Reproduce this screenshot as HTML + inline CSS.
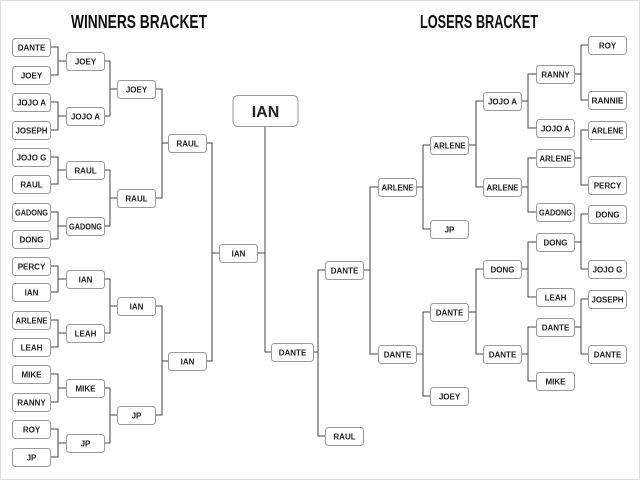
<!DOCTYPE html>
<html><head><meta charset="utf-8"><style>
html,body{margin:0;padding:0;background:#fff;}
svg{display:block;}
.b{fill:#fff;stroke:#9a9a9a;stroke-width:1;}
.t{font-family:"Liberation Sans",sans-serif;font-weight:bold;font-size:8px;fill:#222;text-anchor:middle;}
.h{font-family:"Liberation Sans",sans-serif;font-weight:bold;font-size:18px;fill:#111;text-anchor:middle;}
.l{fill:none;stroke:#444;stroke-width:1;}
</style></head><body>
<svg width="640" height="480" viewBox="0 0 640 480">
<rect x="0.5" y="0.5" width="639" height="479" fill="#fff" stroke="#ddd"/>
<text class="h" x="139" y="28" textLength="136" lengthAdjust="spacingAndGlyphs">WINNERS BRACKET</text>
<text class="h" x="479" y="28" textLength="118" lengthAdjust="spacingAndGlyphs">LOSERS BRACKET</text>

<g class="l">
<path d="M50 47H58V75H50M58 61H66"/>
<path d="M50 102H58V130H50M58 116H66"/>
<path d="M50 157H58V184H50M58 170H66"/>
<path d="M50 212H58V239H50M58 226H66"/>
<path d="M50 266H58V292H50M58 279H66"/>
<path d="M50 320H58V347H50M58 333H66"/>
<path d="M50 374H58V402H50M58 388H66"/>
<path d="M50 429H58V457H50M58 443H66"/>
<path d="M104 61H110V116H104M110 89H117"/>
<path d="M104 170H110V226H104M110 198H117"/>
<path d="M104 279H110V333H104M110 306H117"/>
<path d="M104 388H110V443H104M110 415H117"/>
<path d="M155 89H162V198H155M162 143H168"/>
<path d="M155 306H162V415H155M162 361H168"/>
<path d="M206 143H212V361H206M212 253H219"/>
<path d="M257 253H265"/>
<path d="M265 126V352H271"/>
<path d="M325 270H318V436H325M313 352H318"/>
<path d="M378 187H370V354H378M363 270H370"/>
<path d="M430 145H423V229H430M416 187H423"/>
<path d="M430 312H423V396H430M416 354H423"/>
<path d="M483 101H476V187H483M468 145H476"/>
<path d="M483 269H476V354H483M468 312H476"/>
<path d="M536 74H528V128H536M521 101H528"/>
<path d="M536 158H528V212H536M521 187H528"/>
<path d="M536 242H528V297H536M521 269H528"/>
<path d="M536 327H528V381H536M521 354H528"/>
<path d="M588 45H581V100H588M575 74H581"/>
<path d="M588 130H581V185H588M575 158H581"/>
<path d="M588 214H581V269H588M575 242H581"/>
<path d="M588 299H581V354H588M575 327H581"/>
</g>

<rect class="b" x="233" y="95.5" width="65" height="31" rx="5"/>
<text class="t" x="265.5" y="117" style="font-size:16px">IAN</text>

<g>
<rect class="b" x="12.5" y="38.5" width="38" height="18" rx="3"/><text class="t" x="31.5" y="50.5">DANTE</text>
<rect class="b" x="12.5" y="66.5" width="38" height="18" rx="3"/><text class="t" x="31.5" y="78.5">JOEY</text>
<rect class="b" x="12.5" y="93.5" width="38" height="18" rx="3"/><text class="t" x="31.5" y="105.5">JOJO A</text>
<rect class="b" x="12.5" y="121.5" width="38" height="18" rx="3"/><text class="t" x="31.5" y="133.5" textLength="32" lengthAdjust="spacingAndGlyphs">JOSEPH</text>
<rect class="b" x="12.5" y="148.5" width="38" height="18" rx="3"/><text class="t" x="31.5" y="160.5">JOJO G</text>
<rect class="b" x="12.5" y="175.5" width="38" height="18" rx="3"/><text class="t" x="31.5" y="187.5">RAUL</text>
<rect class="b" x="12.5" y="203.5" width="38" height="18" rx="3"/><text class="t" x="31.5" y="215.5" textLength="33" lengthAdjust="spacingAndGlyphs">GADONG</text>
<rect class="b" x="12.5" y="230.5" width="38" height="18" rx="3"/><text class="t" x="31.5" y="242.5">DONG</text>
<rect class="b" x="12.5" y="257.5" width="38" height="18" rx="3"/><text class="t" x="31.5" y="269.5">PERCY</text>
<rect class="b" x="12.5" y="283.5" width="38" height="18" rx="3"/><text class="t" x="31.5" y="295.5">IAN</text>
<rect class="b" x="12.5" y="311.5" width="38" height="18" rx="3"/><text class="t" x="31.5" y="323.5" textLength="32" lengthAdjust="spacingAndGlyphs">ARLENE</text>
<rect class="b" x="12.5" y="338.5" width="38" height="18" rx="3"/><text class="t" x="31.5" y="350.5">LEAH</text>
<rect class="b" x="12.5" y="365.5" width="38" height="18" rx="3"/><text class="t" x="31.5" y="377.5">MIKE</text>
<rect class="b" x="12.5" y="393.5" width="38" height="18" rx="3"/><text class="t" x="31.5" y="405.5">RANNY</text>
<rect class="b" x="12.5" y="420.5" width="38" height="18" rx="3"/><text class="t" x="31.5" y="432.5">ROY</text>
<rect class="b" x="12.5" y="448.5" width="38" height="18" rx="3"/><text class="t" x="31.5" y="460.5">JP</text>
</g>
<g>
<rect class="b" x="66.5" y="52.5" width="38" height="18" rx="3"/><text class="t" x="85.5" y="64.5">JOEY</text>
<rect class="b" x="66.5" y="107.5" width="38" height="18" rx="3"/><text class="t" x="85.5" y="119.5">JOJO A</text>
<rect class="b" x="66.5" y="161.5" width="38" height="18" rx="3"/><text class="t" x="85.5" y="173.5">RAUL</text>
<rect class="b" x="66.5" y="217.5" width="38" height="18" rx="3"/><text class="t" x="85.5" y="229.5" textLength="33" lengthAdjust="spacingAndGlyphs">GADONG</text>
<rect class="b" x="66.5" y="270.5" width="38" height="18" rx="3"/><text class="t" x="85.5" y="282.5">IAN</text>
<rect class="b" x="66.5" y="324.5" width="38" height="18" rx="3"/><text class="t" x="85.5" y="336.5">LEAH</text>
<rect class="b" x="66.5" y="379.5" width="38" height="18" rx="3"/><text class="t" x="85.5" y="391.5">MIKE</text>
<rect class="b" x="66.5" y="434.5" width="38" height="18" rx="3"/><text class="t" x="85.5" y="446.5">JP</text>
</g>
<g>
<rect class="b" x="117.5" y="80.5" width="38" height="18" rx="3"/><text class="t" x="136.5" y="92.5">JOEY</text>
<rect class="b" x="117.5" y="189.5" width="38" height="18" rx="3"/><text class="t" x="136.5" y="201.5">RAUL</text>
<rect class="b" x="117.5" y="297.5" width="38" height="18" rx="3"/><text class="t" x="136.5" y="309.5">IAN</text>
<rect class="b" x="117.5" y="406.5" width="38" height="18" rx="3"/><text class="t" x="136.5" y="418.5">JP</text>
</g>
<rect class="b" x="168.5" y="134.5" width="38" height="18" rx="3"/><text class="t" x="187.5" y="146.5">RAUL</text>
<rect class="b" x="168.5" y="352.5" width="38" height="18" rx="3"/><text class="t" x="187.5" y="364.5">IAN</text>
<rect class="b" x="219.5" y="244.5" width="38" height="18" rx="3"/><text class="t" x="238.5" y="256.5">IAN</text>
<rect class="b" x="271.5" y="343.5" width="42" height="18" rx="3"/><text class="t" x="292.5" y="355.5">DANTE</text>

<rect class="b" x="325.5" y="261.5" width="38" height="18" rx="3"/><text class="t" x="344.5" y="273.5">DANTE</text>
<rect class="b" x="325.5" y="427.5" width="38" height="18" rx="3"/><text class="t" x="344.5" y="439.5">RAUL</text>
<rect class="b" x="378.5" y="178.5" width="38" height="18" rx="3"/><text class="t" x="397.5" y="190.5" textLength="32" lengthAdjust="spacingAndGlyphs">ARLENE</text>
<rect class="b" x="378.5" y="345.5" width="38" height="18" rx="3"/><text class="t" x="397.5" y="357.5">DANTE</text>
<rect class="b" x="430.5" y="136.5" width="38" height="18" rx="3"/><text class="t" x="449.5" y="148.5" textLength="32" lengthAdjust="spacingAndGlyphs">ARLENE</text>
<rect class="b" x="430.5" y="220.5" width="38" height="18" rx="3"/><text class="t" x="449.5" y="232.5">JP</text>
<rect class="b" x="430.5" y="303.5" width="38" height="18" rx="3"/><text class="t" x="449.5" y="315.5">DANTE</text>
<rect class="b" x="430.5" y="387.5" width="38" height="18" rx="3"/><text class="t" x="449.5" y="399.5">JOEY</text>
<rect class="b" x="483.5" y="92.5" width="38" height="18" rx="3"/><text class="t" x="502.5" y="104.5">JOJO A</text>
<rect class="b" x="483.5" y="178.5" width="38" height="18" rx="3"/><text class="t" x="502.5" y="190.5" textLength="32" lengthAdjust="spacingAndGlyphs">ARLENE</text>
<rect class="b" x="483.5" y="260.5" width="38" height="18" rx="3"/><text class="t" x="502.5" y="272.5">DONG</text>
<rect class="b" x="483.5" y="345.5" width="38" height="18" rx="3"/><text class="t" x="502.5" y="357.5">DANTE</text>
<rect class="b" x="536.5" y="65.5" width="38" height="18" rx="3"/><text class="t" x="555.5" y="77.5">RANNY</text>
<rect class="b" x="536.5" y="119.5" width="38" height="18" rx="3"/><text class="t" x="555.5" y="131.5">JOJO A</text>
<rect class="b" x="536.5" y="149.5" width="38" height="18" rx="3"/><text class="t" x="555.5" y="161.5" textLength="32" lengthAdjust="spacingAndGlyphs">ARLENE</text>
<rect class="b" x="536.5" y="203.5" width="38" height="18" rx="3"/><text class="t" x="555.5" y="215.5" textLength="33" lengthAdjust="spacingAndGlyphs">GADONG</text>
<rect class="b" x="536.5" y="233.5" width="38" height="18" rx="3"/><text class="t" x="555.5" y="245.5">DONG</text>
<rect class="b" x="536.5" y="288.5" width="38" height="18" rx="3"/><text class="t" x="555.5" y="300.5">LEAH</text>
<rect class="b" x="536.5" y="318.5" width="38" height="18" rx="3"/><text class="t" x="555.5" y="330.5">DANTE</text>
<rect class="b" x="536.5" y="372.5" width="38" height="18" rx="3"/><text class="t" x="555.5" y="384.5">MIKE</text>
<rect class="b" x="588.5" y="36.5" width="38" height="18" rx="3"/><text class="t" x="607.5" y="48.5">ROY</text>
<rect class="b" x="588.5" y="91.5" width="38" height="18" rx="3"/><text class="t" x="607.5" y="103.5" textLength="32" lengthAdjust="spacingAndGlyphs">RANNIE</text>
<rect class="b" x="588.5" y="121.5" width="38" height="18" rx="3"/><text class="t" x="607.5" y="133.5" textLength="32" lengthAdjust="spacingAndGlyphs">ARLENE</text>
<rect class="b" x="588.5" y="176.5" width="38" height="18" rx="3"/><text class="t" x="607.5" y="188.5">PERCY</text>
<rect class="b" x="588.5" y="205.5" width="38" height="18" rx="3"/><text class="t" x="607.5" y="217.5">DONG</text>
<rect class="b" x="588.5" y="260.5" width="38" height="18" rx="3"/><text class="t" x="607.5" y="272.5">JOJO G</text>
<rect class="b" x="588.5" y="290.5" width="38" height="18" rx="3"/><text class="t" x="607.5" y="302.5" textLength="32" lengthAdjust="spacingAndGlyphs">JOSEPH</text>
<rect class="b" x="588.5" y="345.5" width="38" height="18" rx="3"/><text class="t" x="607.5" y="357.5">DANTE</text>
</svg>
</body></html>
